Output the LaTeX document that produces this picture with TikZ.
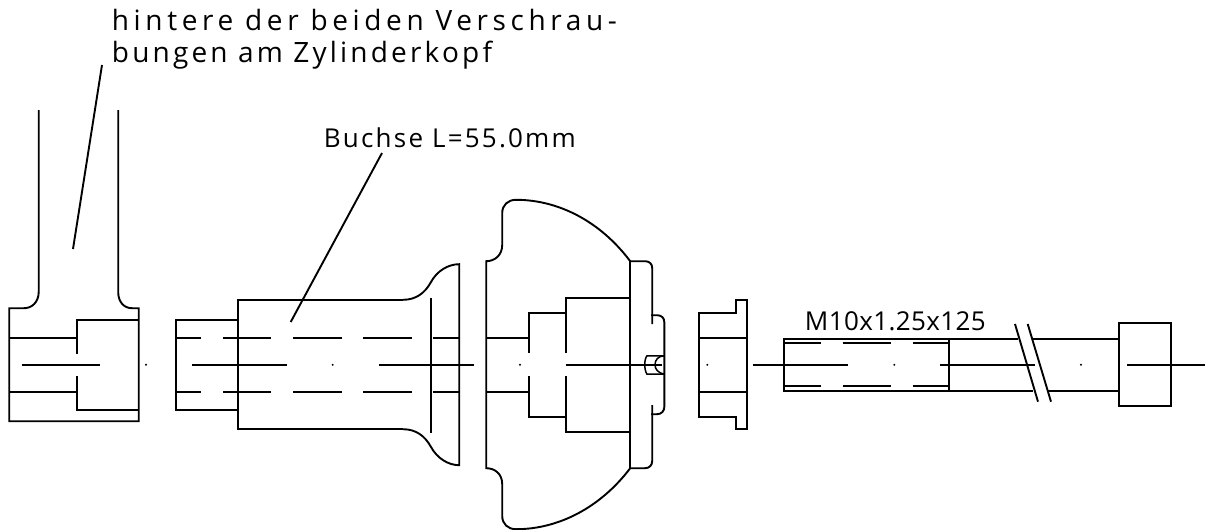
\documentclass[tikz,border=0pt]{standalone}
\usepackage{fontspec}
\setmainfont[LetterSpace=8.5]{Open Sans}
\newfontfamily\widefont[LetterSpace=16.5]{Open Sans}
\newfontfamily\midfont[LetterSpace=11.4]{Open Sans}
\newfontfamily\tightfont[LetterSpace=1.5]{Open Sans}
\tikzset{cad/.style={line width=1.9pt,line cap=butt,line join=miter},
 lbl/.style={anchor=base west,inner sep=0pt,font=\fontsize{26}{26}\selectfont},
 lblbig/.style={anchor=base west,inner sep=0pt,font=\fontsize{28}{28}\selectfont}}
\newcommand{\cp}[2]{\fill (#1,#2) circle (1.1pt);}
\begin{document}
\begin{tikzpicture}[x=1pt,y=-1pt,cad]
\useasboundingbox (0,0) rectangle (1205,530);
% labels
\node[lblbig] (t1) at (111,30) {\widefont hintere der beiden Verschrau-};
\node[lblbig] (t2) at (111,62) {\midfont bungen am Zylinderkopf};
\node[lbl] (t3) at (323,147) {Buchse L=55.0mm};
\node[lbl] (t4) at (804,330) {\tightfont M10x1.25x125};
% leaders
\coordinate (l1) at (73,249); \coordinate (l1e) at (102,65);
\coordinate (l2) at (290.7,322); \coordinate (l2e) at (382,153);
\draw (l1) -- (l1e);
\draw (l2) -- (l2e);
% head
\draw (38.7,110) -- (38.7,292) .. controls (38.7,302) and (32,308.2) .. (24,308.2) -- (9.2,308.2) -- (9.2,421.2) -- (138.7,421.2) -- (138.7,308.2) -- (132,308.2) .. controls (124,308.2) and (118.2,302) .. (118.2,292) -- (118.2,110);
\draw (138.7,319.8) -- (76.8,319.8) -- (76.8,353.5);
\draw (76.8,376) -- (76.8,410.2) -- (138.7,410.2);
\draw (9.2,337.8) -- (76.8,337.8) (9.2,391.8) -- (76.8,391.8);
\draw (22,364.8) -- (100,364.8);
\cp{146}{364.8}
% bushing
\draw (237.8,319.8) -- (175.8,319.8) -- (175.8,410.2) -- (237.8,410.2);
\draw (403,299.8) -- (237.8,299.8) -- (237.8,429.2) -- (403,429.2);
\draw (403,299.8) .. controls (416,299.8) and (425,293) .. (431,282) .. controls (437,271) and (448,264.2) .. (459.2,264.2) -- (459.2,465.2) .. controls (448,465.2) and (437,458) .. (431,447) .. controls (425,436) and (416,429.2) .. (403,429.2);
\draw (431.2,298) -- (431.2,433);
\foreach \y in {337.8,391.8} {
 \draw (175.8,\y) -- (201,\y) (223,\y) -- (271,\y) (293,\y) -- (341.7,\y) (363,\y) -- (412,\y) (433,\y) -- (459.2,\y);
}
\draw (192,364.8) -- (287,364.8) (379,364.8) -- (474,364.8);
\cp{332.7}{364.8}
% cap
\draw (630.2,261.2) -- (630.2,468.2);
\draw (630.2,261.2) .. controls (600,221) and (558,199.8) .. (516,199.8) .. controls (508,199.8) and (502.2,205) .. (502.2,213) -- (502.2,245) .. controls (502.2,255) and (495,261.2) .. (486.2,261.2) -- (486.2,468.2) .. controls (495,468.2) and (502.2,474) .. (502.2,484) -- (502.2,516) .. controls (502.2,524) and (508,529.2) .. (516,529.2) .. controls (558,529.2) and (600,508) .. (630.2,468.2);
\draw (630.2,261.2) -- (645,261.2) .. controls (649.5,261.2) and (652.2,264) .. (652.2,268) -- (652.2,324);
\draw (630.2,468.2) -- (645,468.2) .. controls (649.5,468.2) and (652.2,465) .. (652.2,461) -- (652.2,405);
\draw (651,315.2) -- (657,315.2) .. controls (661.5,315.2) and (664.3,318) .. (664.3,322) -- (664.3,407) .. controls (664.3,411) and (661.5,414.2) .. (657,414.2) -- (651,414.2);
\draw (630.2,297.8) -- (566.2,297.8) -- (566.2,353);
\draw (566.2,376) -- (566.2,431.8) -- (630.2,431.8);
\draw (566.2,312.8) -- (529.2,312.8) -- (529.2,353);
\draw (529.2,376) -- (529.2,416.8) -- (566.2,416.8);
\draw (486.2,337.8) -- (529.2,337.8) (486.2,391.8) -- (529.2,391.8);
\draw (566.2,364.8) -- (661.7,364.8);
\cp{520}{364.8}
\draw[line width=1.5pt] (664.3,355.8) -- (647,355.8) .. controls (644,359) and (644,370) .. (647,374.2) -- (664.3,374.2);
\draw[line width=1.5pt] (664.3,355.8) .. controls (658,356) and (655,360) .. (655,364.8) .. controls (655,369) and (658,373) .. (664.3,374.2);
% washer
\draw (699.2,312.8) -- (736.2,312.8) -- (736.2,300.2) -- (747.2,300.2) -- (747.2,429.2) -- (736.2,429.2) -- (736.2,416.8) -- (699.2,416.8) -- cycle;
\draw (699.2,337.8) -- (747.2,337.8) (699.2,391.8) -- (747.2,391.8);
\cp{707.3}{364.8}
% bolt
\draw (753,364.8) -- (848,364.8) (940,364.8) -- (1035,364.8) (1127,364.8) -- (1205,364.8);
\cp{894.3}{364.8} \cp{1081}{364.8}
\draw (1018,339.2) -- (784.2,339.2) -- (784.2,390.8) -- (1033,390.8);
\draw (949.2,339.2) -- (949.2,390.8);
\draw (1033,339.2) -- (1119.2,339.2) (1048,390.8) -- (1119.2,390.8);
\foreach \y in {343.2,385.8} {
 \draw (784.2,\y) -- (820.7,\y) (842.7,\y) -- (890.7,\y) (912.7,\y) -- (949.2,\y);
}
\draw (1119.2,323.3) rectangle (1170.8,406.2);
\draw (1015,324) -- (1038,401.7) (1027.7,324) -- (1051,401.7);
\end{tikzpicture}
\end{document}
